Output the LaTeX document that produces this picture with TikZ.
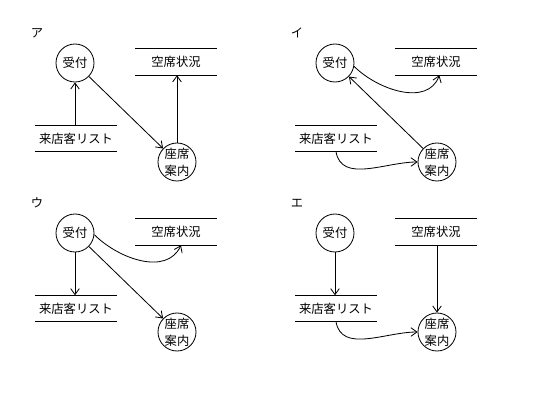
\documentclass[tikz,border=0pt]{standalone}
\usepackage{fontspec}
\setmainfont{Noto Sans CJK JP}
\usepackage{tikz}
\usetikzlibrary{arrows.meta,positioning,calc}

\begin{document}
\begin{tikzpicture}[
    x=0.03cm, y=-0.03cm,
    font=\fontsize{10.5}{14.5}\selectfont,
    proc/.style={circle, draw, line width=0.7pt, minimum size=1.14cm, inner sep=0pt, align=center},
    store/.style={minimum width=2.46cm, minimum height=0.78cm, inner sep=0pt,
        append after command={(\tikzlastnode.north west) edge[line width=0.7pt] (\tikzlastnode.north east)
                              (\tikzlastnode.south west) edge[line width=0.7pt] (\tikzlastnode.south east)}},
    flow/.style={line width=0.7pt, -{Straight Barb[length=1.8mm,width=2.6mm]}},
]
\useasboundingbox (0,0) rectangle (540,414);

% four panels: same nodes, shifted
\foreach \p/\lab/\dx/\dy in {a/ア/0/0, i/イ/260/0, u/ウ/0/170, e/エ/260/170} {
    \node (\p-lab) at ({37+\dx},{33+\dy}) {\lab};
    \node[proc] (\p-uke) at ({75+\dx},{63+\dy}) {受付};
    \node[proc] (\p-zaseki) at ({177+\dx},{162+\dy}) {座席\\案内};
    \node[store] (\p-kuseki) at ({176+\dx},{62+\dy}) {空席状況};
    \node[store] (\p-list) at ({76+\dx},{138.5+\dy}) {来店客リスト};
}

% ア
\draw[flow] (a-list.north -| a-uke) -- (a-uke);
\draw[flow] (a-uke) -- (a-zaseki);
\draw[flow] (a-zaseki) -- (a-zaseki |- a-kuseki.south);

% イ
\draw[flow] (i-zaseki) -- (i-uke);
\draw[flow] (i-uke.-10) to[out=-45, in=-110] ([xshift=0.1cm]i-kuseki.south);
\draw[flow] (i-list.south) to[out=-80, in=180] (i-zaseki);

% ウ
\draw[flow] (u-uke) -- (u-uke |- u-list.north);
\draw[flow] (u-uke) -- (u-zaseki);
\draw[flow] (u-uke.-5) to[out=-45, in=-115] ([xshift=0.15cm]u-kuseki.south);

% エ
\draw[flow] (e-uke) -- (e-uke |- e-list.north);
\draw[flow] (e-kuseki.south -| e-zaseki) -- (e-zaseki);
\draw[flow] (e-list.south) to[out=-80, in=180] (e-zaseki);
\end{tikzpicture}
\end{document}
